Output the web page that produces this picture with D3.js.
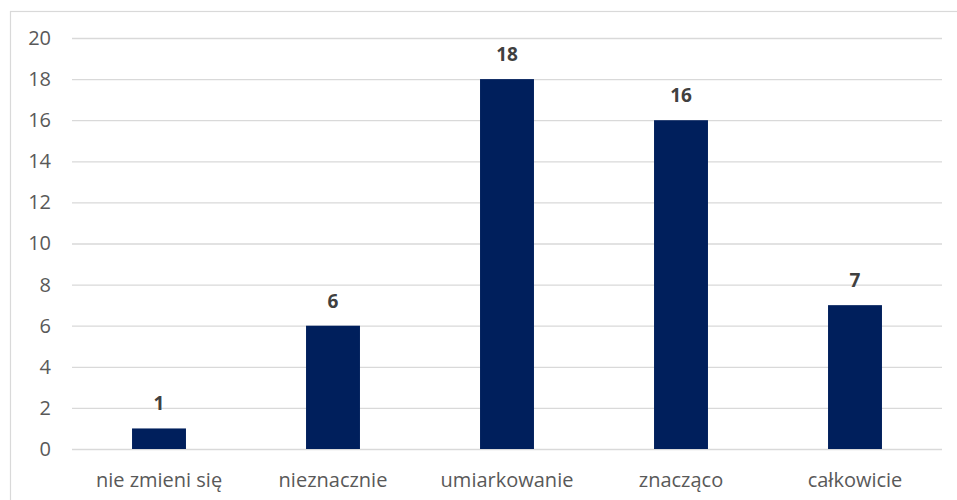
<!DOCTYPE html>
<html>
<head>
<meta charset="utf-8">
<script src="https://cdn.jsdelivr.net/npm/d3@7"></script>
<style>
  html, body { margin: 0; padding: 0; background: #fff; }
  svg { display: block; }
</style>
</head>
<body>
<svg id="chart" width="957" height="500"></svg>
<script>
const categories = ["nie zmieni się", "nieznacznie", "umiarkowanie", "znacząco", "całkowicie"];
const values = [1, 6, 18, 16, 7];
const yTicks = [0, 2, 4, 6, 8, 10, 12, 14, 16, 18, 20];

(function () {
  const svg = d3.select("#chart");
  const font = "'Open Sans', 'Liberation Sans', Arial, sans-serif";

  // outer chart frame
  svg.append("rect")
    .attr("x", 10.5).attr("y", 11.5)
    .attr("width", 960).attr("height", 500)
    .attr("fill", "none").attr("stroke", "#d9d9d9").attr("stroke-width", 1.2);

  const plotLeft = 72, plotRight = 942, plotTop = 38, plotBottom = 449;

  const x = d3.scaleBand().domain(categories).range([plotLeft, plotRight]).paddingInner(0.69).paddingOuter(0.345);
  const y = d3.scaleLinear().domain([0, 20]).range([plotBottom, plotTop]);

  // horizontal gridlines + y labels
  const yAxis = d3.axisLeft(y).tickValues(yTicks).tickSize(-(plotRight - plotLeft)).tickPadding(21);
  const gy = svg.append("g").attr("transform", `translate(${plotLeft},0)`).call(yAxis);
  gy.select(".domain").remove();
  gy.selectAll(".tick line").attr("stroke", "#d9d9d9").attr("stroke-width", 1.3);
  gy.selectAll(".tick text").attr("fill", "#595959").style("font-family", font).style("font-size", "20px");

  // bars
  svg.append("g").selectAll("rect").data(values).join("rect")
    .attr("x", (d, i) => x(categories[i]))
    .attr("y", d => y(d))
    .attr("width", x.bandwidth())
    .attr("height", d => y(0) - y(d))
    .attr("fill", "#001f5c");

  // value labels
  svg.append("g").selectAll("text").data(values).join("text")
    .attr("x", (d, i) => x(categories[i]) + x.bandwidth() / 2)
    .attr("y", d => y(d) - 18)
    .attr("text-anchor", "middle")
    .attr("fill", "#404040")
    .style("font-family", font).style("font-size", "19px").style("font-weight", "bold")
    .text(d => d);

  // category labels
  const xAxis = d3.axisBottom(x).tickSize(0).tickPadding(24);
  const gx = svg.append("g").attr("transform", `translate(0,${plotBottom})`).call(xAxis);
  gx.select(".domain").remove();
  gx.selectAll(".tick text").attr("fill", "#595959").style("font-family", font).style("font-size", "20px");
})();
</script>
</body>
</html>
